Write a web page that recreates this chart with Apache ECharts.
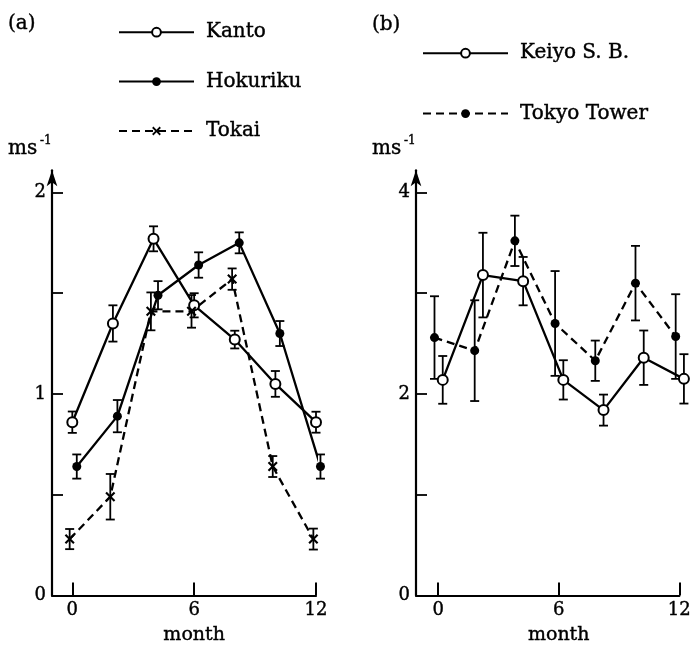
<!DOCTYPE html>
<html><head><meta charset="utf-8">
<script src="https://cdn.jsdelivr.net/npm/echarts@6/dist/echarts.min.js"></script>
<style>html,body{margin:0;padding:0;background:#fff}#c{width:696px;height:648px}</style>
</head><body><div id="c"></div>
<script>
// ---- data ----
const xTickLabels = [0, 6, 12];
const kantoMonth    = [0, 2, 4, 6, 8, 10, 12];
const hokurikuMonth = [0.22, 2.22, 4.22, 6.22, 8.22, 10.22, 12.22];
const tokaiMonth    = [-0.13, 1.87, 3.87, 5.87, 7.87, 9.87, 11.87];
const kanto       = [0.86, 1.35, 1.77, 1.44, 1.27, 1.05, 0.86];
const kantoErr    = [0.053, 0.09, 0.062, 0.06, 0.044, 0.064, 0.052];
const hokuriku    = [0.64, 0.89, 1.49, 1.64, 1.75, 1.30, 0.64];
const hokurikuErr = [0.06, 0.08, 0.07, 0.063, 0.052, 0.062, 0.06];
const tokai       = [0.28, 0.49, 1.41, 1.41, 1.57, 0.64, 0.28];
const tokaiErr    = [0.05, 0.113, 0.094, 0.081, 0.053, 0.052, 0.052];

const keiyoMonth = [0.23, 2.23, 4.23, 6.23, 8.23, 10.23, 12.23];
const tokyoMonth = [-0.18, 1.82, 3.82, 5.82, 7.82, 9.82, 11.82];
const keiyo      = [2.14, 3.18, 3.12, 2.14, 1.84, 2.36, 2.15];
const keiyoErr   = [0.237, 0.42, 0.24, 0.195, 0.154, 0.27, 0.245];
const tokyo      = [2.56, 2.43, 3.52, 2.70, 2.33, 3.10, 2.57];
const tokyoErr   = [0.41, 0.5, 0.25, 0.52, 0.2, 0.37, 0.42];

const yTicksA = [0.5, 1, 1.5, 2];
const yLabelsA = [0, 1, 2];
const yTicksB = [1, 2, 3, 4];
const yLabelsB = [0, 2, 4];

// ---- chart ----
const FONT = 'DejaVu Serif';
const INK = '#000';
const crossPath = 'path://M0,1.5L1.5,0L5,3.5L8.5,0L10,1.5L6.5,5L10,8.5L8.5,10L5,6.5L1.5,10L0,8.5L3.5,5Z';

function pairs(xs, ys) { return xs.map((x, i) => [x, ys[i]]); }

function renderErr(params, api) {
  const x = api.value(0), lo = api.value(1), hi = api.value(2);
  const a = api.coord([x, lo]), b = api.coord([x, hi]);
  const hw = 4.5;
  const st = { stroke: INK, lineWidth: 1.8 };
  return { type: 'group', children: [
    { type: 'line', shape: { x1: a[0], y1: a[1], x2: b[0], y2: b[1] }, style: st },
    { type: 'line', shape: { x1: a[0] - hw, y1: a[1], x2: a[0] + hw, y2: a[1] }, style: st },
    { type: 'line', shape: { x1: b[0] - hw, y1: b[1], x2: b[0] + hw, y2: b[1] }, style: st }
  ]};
}
function errSeries(name, xs, vals, errs, gi) {
  return {
    name: name, type: 'custom', xAxisIndex: gi, yAxisIndex: gi, z: 2, silent: true,
    data: xs.map((x, i) => [x, vals[i] - errs[i], vals[i] + errs[i]]),
    encode: { x: 0, y: [1, 2] },
    renderItem: renderErr
  };
}
function lineSeries(name, xs, ys, gi, symbol, size, dashed) {
  return {
    name: name, type: 'line', xAxisIndex: gi, yAxisIndex: gi, z: 3, clip: false, silent: true,
    data: pairs(xs, ys), symbol: symbol, symbolSize: size, showSymbol: true,
    lineStyle: { color: INK, width: 2.3, type: dashed ? [8, 5] : 'solid' },
    itemStyle: { color: INK, borderColor: INK, borderWidth: symbol === 'emptyCircle' ? 2 : 0 },
    emphasis: { disabled: true }
  };
}
const labelStyle = { color: INK, fontFamily: FONT, fontSize: 18, textBorderColor: INK, textBorderWidth: 0.4 };
function xAxisDef(gi, min) {
  return {
    type: 'value', gridIndex: gi, min: min, max: 12,
    axisLine: { show: true, onZero: false, lineStyle: { color: INK, width: 2.2 } },
    axisTick: { show: true, inside: true, length: 13, customValues: xTickLabels, lineStyle: { color: INK, width: 2 } },
    axisLabel: Object.assign({ show: true, customValues: xTickLabels, margin: 6 }, labelStyle),
    splitLine: { show: false }
  };
}
function yAxisDef(gi, max, ticks, labels) {
  return {
    type: 'value', gridIndex: gi, min: 0, max: max,
    axisLine: { show: true, onZero: false, symbol: ['none', 'arrow'], symbolSize: [8, 16], lineStyle: { color: INK, width: 2.2 } },
    axisTick: { show: true, inside: true, length: 11, customValues: ticks, lineStyle: { color: INK, width: 1.8 } },
    axisLabel: Object.assign({ show: true, customValues: labels, margin: 6 }, labelStyle),
    splitLine: { show: false }
  };
}
const legendText = { fontFamily: FONT, fontSize: 20, color: INK, padding: [0, 0, 0, 7], textBorderColor: INK, textBorderWidth: 0.4 };

const chart = echarts.init(document.getElementById('c'), null, { renderer: 'canvas' });
chart.setOption({
  animation: false,
  backgroundColor: '#fff',
  grid: [
    { left: 52, top: 170.3, width: 264, height: 425.2 },
    { left: 416, top: 170.3, width: 263.3, height: 425.2 }
  ],
  xAxis: [xAxisDef(0, -1), xAxisDef(1, -1.1)],
  yAxis: [yAxisDef(0, 2.11, yTicksA, yLabelsA), yAxisDef(1, 4.22, yTicksB, yLabelsB)],
  legend: [
    { data: ['Kanto', 'Hokuriku', 'Tokai'], orient: 'vertical', left: 118, top: 22, padding: 0,
      itemWidth: 75, itemHeight: 11, itemGap: 29, selectedMode: false, textStyle: legendText },
    { data: ['Keiyo S. B.', 'Tokyo Tower'], orient: 'vertical', left: 422, top: 43, padding: 0,
      itemWidth: 85, itemHeight: 11, itemGap: 40, selectedMode: false, textStyle: legendText }
  ],
  series: [
    errSeries('Kanto err', kantoMonth, kanto, kantoErr, 0),
    errSeries('Hokuriku err', hokurikuMonth, hokuriku, hokurikuErr, 0),
    errSeries('Tokai err', tokaiMonth, tokai, tokaiErr, 0),
    errSeries('Keiyo err', keiyoMonth, keiyo, keiyoErr, 1),
    errSeries('Tokyo err', tokyoMonth, tokyo, tokyoErr, 1),
    lineSeries('Kanto', kantoMonth, kanto, 0, 'emptyCircle', 10, false),
    lineSeries('Hokuriku', hokurikuMonth, hokuriku, 0, 'circle', 9, false),
    lineSeries('Tokai', tokaiMonth, tokai, 0, crossPath, 10, true),
    lineSeries('Keiyo S. B.', keiyoMonth, keiyo, 1, 'emptyCircle', 10, false),
    lineSeries('Tokyo Tower', tokyoMonth, tokyo, 1, 'circle', 9, true)
  ]
});

// text annotations placed after layout
const mA = chart.convertToPixel({ xAxisIndex: 0 }, 6);
const mB = chart.convertToPixel({ xAxisIndex: 1 }, 6);
function txt(text, x, y, size, align) {
  return { type: 'text', x: x, y: y, silent: true,
    style: { text: text, fill: INK, fontFamily: FONT, fontSize: size, align: align || 'left', verticalAlign: 'middle',
             stroke: INK, lineWidth: 0.4 } };
}
chart.setOption({
  graphic: [
    txt('(a)', 8, 24, 20),
    txt('(b)', 372, 25, 20),
    txt('ms', 8, 149, 20),
    txt('-1', 40, 141, 12),
    txt('ms', 372, 149, 20),
    txt('-1', 404, 141, 12),
    txt('month', mA, 635, 19, 'center'),
    txt('month', mB, 635, 19, 'center')
  ]
});
</script>
</body></html>
